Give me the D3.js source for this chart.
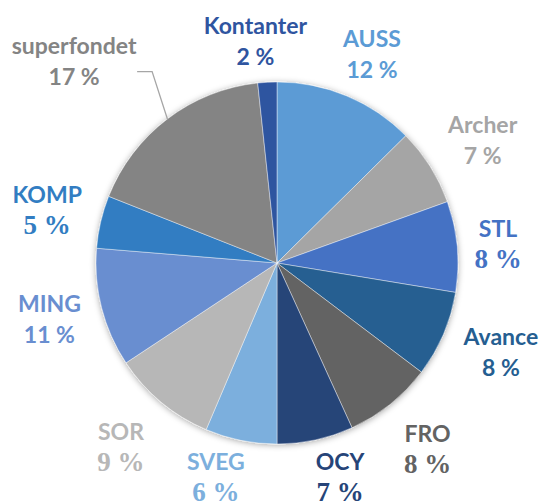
<!DOCTYPE html>
<html>
<head>
<meta charset="utf-8">
<script src="https://cdn.jsdelivr.net/npm/d3@7"></script>
<style>
  html, body { margin: 0; padding: 0; background: #fff; }
  svg { display: block; }
  .lbl { font-family: Lato, "Open Sans", sans-serif; font-weight: bold; font-size: 23px; }
  .pct-serif { font-family: "Liberation Serif", "DejaVu Serif", serif; font-weight: bold; font-size: 27px; }
</style>
</head>
<body>
<div id="chart"></div>
<script>
// slices, clockwise from 12 o'clock
var names = ["AUSS", "Archer", "STL", "Avance", "FRO", "OCY", "SVEG", "SOR", "MING", "KOMP", "superfondet", "Kontanter"];
var shares = [12.6, 6.9, 8.1, 7.7, 7.9, 6.8, 6.4, 9.3, 10.6, 4.7, 17.3, 1.7];
var pctLabels = ["12 %", "7 %", "8 %", "8 %", "8 %", "7 %", "6 %", "9 %", "11 %", "5 %", "17 %", "2 %"];

var colors = ["#5b9bd5", "#a5a5a5", "#4472c4", "#255e91", "#636363", "#264478",
              "#7cafdd", "#b7b7b7", "#698ed0", "#327dc2", "#848484", "#2f55a0"];
// which percentage labels came out in a serif face
var serifPct = ["STL", "FRO", "OCY", "SVEG", "SOR", "KOMP"];
// small hand moves of the labels (px), like in the original
var nudge = {
  "AUSS": [4, 9], "Archer": [6, 3], "STL": [-14, 3], "Avance": [7, -4],
  "FRO": [3, 2], "OCY": [13, -16], "SVEG": [-14, -17], "SOR": [-5, 3],
  "MING": [1, -2], "KOMP": [0, 1], "superfondet": [-60, -14], "Kontanter": [-9, 14]
};

var W = 542, H = 502;
var cx = 277, cy = 263, R = 181, labelR = 236;

var svg = d3.select("#chart").append("svg")
  .attr("width", W)
  .attr("height", H);

var defs = svg.append("defs");
var f = defs.append("filter").attr("id", "shadow")
  .attr("x", "-20%").attr("y", "-20%").attr("width", "140%").attr("height", "140%");
f.append("feDropShadow")
  .attr("dx", 0).attr("dy", 1)
  .attr("stdDeviation", 3)
  .attr("flood-color", "#000")
  .attr("flood-opacity", 0.35);

var data = names.map(function(n, i) {
  return {name: n, value: shares[i], pct: pctLabels[i], color: colors[i]};
});

var pie = d3.pie()
  .sort(null)
  .value(function(d) { return d.value; });

var arc = d3.arc().innerRadius(0).outerRadius(R);

var g = svg.append("g")
  .attr("transform", "translate(" + cx + "," + cy + ")");

var arcs = pie(data);

var slices = g.append("g").attr("filter", "url(#shadow)");
slices.selectAll("path")
  .data(arcs)
  .enter().append("path")
  .attr("d", arc)
  .attr("fill", function(d) { return d.data.color; })
  .attr("stroke", "#fff")
  .attr("stroke-opacity", 0.6)
  .attr("stroke-width", 0.7);

function midAngle(d) { return (d.startAngle + d.endAngle) / 2; }

function labelPos(d) {
  var a = midAngle(d);
  var n = nudge[d.data.name] || [0, 0];
  return [labelR * Math.sin(a) + n[0], -labelR * Math.cos(a) + n[1]];
}

var labels = g.selectAll("g.label")
  .data(arcs)
  .enter().append("g")
  .attr("class", "label")
  .attr("transform", function(d) {
    var p = labelPos(d);
    return "translate(" + p[0] + "," + p[1] + ")";
  });

labels.append("text")
  .attr("class", "lbl")
  .attr("text-anchor", "middle")
  .attr("y", -7.5)
  .attr("fill", function(d) { return d.data.color; })
  .text(function(d) { return d.data.name; });

labels.append("text")
  .attr("class", function(d) {
    return serifPct.indexOf(d.data.name) >= 0 ? "pct-serif" : "lbl";
  })
  .attr("text-anchor", "middle")
  .attr("y", 23.5)
  .attr("fill", function(d) { return d.data.color; })
  .text(function(d) { return d.data.pct; });

// leader line for the label that was pulled away from its slice
arcs.filter(function(d) { return d.data.name === "superfondet"; }).forEach(function(d) {
  var p = labelPos(d);
  var a = midAngle(d);
  var pts = [
    [p[0] + 63, p[1] + 10.5],
    [p[0] + 78, p[1] + 10.5],
    [R * Math.sin(a), -R * Math.cos(a)]
  ];
  g.append("path")
    .attr("d", d3.line()(pts))
    .attr("fill", "none")
    .attr("stroke", "#a6a6a6")
    .attr("stroke-width", 1.3);
});
</script>
</body>
</html>
